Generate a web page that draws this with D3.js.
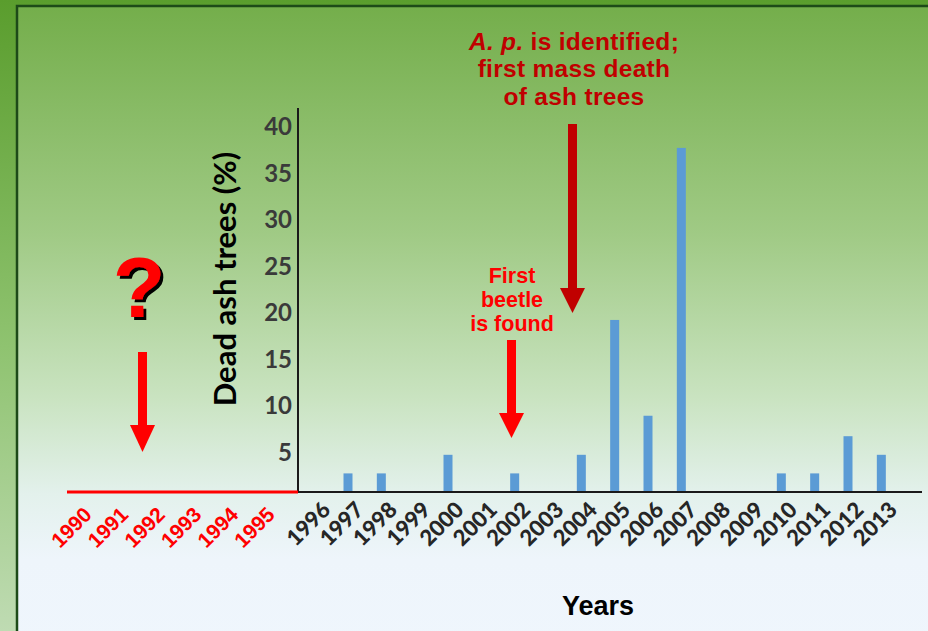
<!DOCTYPE html>
<html>
<head>
<meta charset="utf-8">
<script src="https://cdn.jsdelivr.net/npm/d3@7"></script>
<style>
  body { margin: 0; overflow: hidden; }
</style>
</head>
<body>
<div id="chart"></div>
<script>
// data
const chartYears = ["1996", "1997", "1998", "1999", "2000", "2001", "2002", "2003", "2004",
  "2005", "2006", "2007", "2008", "2009", "2010", "2011", "2012", "2013"];
const deadPct = [0, 2, 2, 0, 4, 0, 2, 0, 4, 18.5, 8.2, 37, 0, 0, 2, 2, 6, 4];
const earlyYears = ["1990", "1991", "1992", "1993", "1994", "1995"];
const yTicks = [5, 10, 15, 20, 25, 30, 35, 40];
const yLabel = "Dead ash trees (%)";
const xLabel = "Years";
const topNote = ["is identified;", "first mass death", "of ash trees"];
const beetleNote = ["First", "beetle", "is found"];

const W = 928, H = 631;

const svg = d3
  .select("#chart")
  .append("svg")
  .attr("width", W)
  .attr("height", H);

// background gradients
const defs = svg.append("defs");
const frameGrad = defs.append("linearGradient")
  .attr("id", "frameGrad").attr("x1", 0).attr("y1", 0).attr("x2", 0).attr("y2", 1);
frameGrad.append("stop").attr("offset", "0%").attr("stop-color", "#5a9d2d");
frameGrad.append("stop").attr("offset", "55%").attr("stop-color", "#8fc370");
frameGrad.append("stop").attr("offset", "100%").attr("stop-color", "#bfdbb3");

const panelGrad = defs.append("linearGradient")
  .attr("id", "panelGrad").attr("x1", 0).attr("y1", 0).attr("x2", 0).attr("y2", 1);
[["0%", "#74ae4b"], ["35%", "#a0ca85"], ["60%", "#c9e3c0"], ["75%", "#e3f1ec"],
 ["85%", "#eef5fb"], ["100%", "#eff6fd"]].forEach(function (s) {
  panelGrad.append("stop").attr("offset", s[0]).attr("stop-color", s[1]);
});

// shadow for the question mark
defs.append("filter")
  .attr("id", "qshadow")
  .append("feDropShadow")
  .attr("dx", 3).attr("dy", 3).attr("stdDeviation", 0.4)
  .attr("flood-color", "#000").attr("flood-opacity", 1);

svg.append("rect").attr("width", W).attr("height", H).style("fill", "url(#frameGrad)");
svg.append("rect")
  .attr("x", 17).attr("y", 6)
  .attr("width", W).attr("height", H + 20)
  .style("fill", "url(#panelGrad)")
  .style("stroke", "#1d4a18")
  .style("stroke-width", 2.5);

// scales
const x = d3.scaleBand().domain(chartYears).range([298, 898]).padding(0);
const xEarly = d3.scalePoint().domain(earlyYears).range([93, 276]);
const y = d3.scaleLinear().domain([0, 40]).range([492, 120]);

// bars
const barW = x.bandwidth() * 0.27;
svg
  .selectAll("rect.bar")
  .data(chartYears.map(function (d, i) { return { year: d, v: deadPct[i] }; }))
  .enter()
  .append("rect")
  .attr("class", "bar")
  .style("fill", "#5b9bd5")
  .attr("x", function (d) { return x(d.year) + x.bandwidth() / 2 - barW / 2; })
  .attr("y", function (d) { return y(d.v); })
  .attr("width", barW)
  .attr("height", function (d) { return y(0) - y(d.v); });

// Y axis
const yAxis = svg
  .append("g")
  .attr("transform", "translate(298,0)")
  .call(d3.axisLeft(y).tickValues(yTicks).tickSize(0).tickPadding(6));
yAxis.select(".domain").remove();
yAxis
  .selectAll("text")
  .attr("y", 7)
  .style("font-family", "Lato, sans-serif")
  .style("font-weight", "700")
  .style("font-size", "24px")
  .style("fill", "#3a3a3a");
svg.append("line")
  .attr("x1", 298).attr("x2", 298).attr("y1", 108).attr("y2", y(0))
  .style("stroke", "#1a1a1a").style("stroke-width", 2);

// X axis
const xAxis = svg
  .append("g")
  .attr("transform", "translate(0," + y(0) + ")")
  .call(d3.axisBottom(x).tickSize(0).tickSizeOuter(0));
xAxis.select(".domain").remove();
xAxis
  .selectAll("text")
  .attr("text-anchor", "end")
  .attr("dy", 0)
  .attr("transform", "translate(15,17)rotate(-45)")
  .style("font-family", "Lato, sans-serif")
  .style("font-weight", "900")
  .style("font-size", "22px")
  .style("fill", "#262626");
svg.append("line")
  .attr("x1", 298).attr("x2", 922).attr("y1", y(0)).attr("y2", y(0))
  .style("stroke", "#1a1a1a").style("stroke-width", 2);

// red pre-record line + years
svg.append("line")
  .attr("x1", 67).attr("x2", 298).attr("y1", y(0)).attr("y2", y(0))
  .style("stroke", "#ff0000").style("stroke-width", 3);
svg
  .selectAll("text.early")
  .data(earlyYears)
  .enter()
  .append("text")
  .attr("class", "early")
  .attr("text-anchor", "end")
  .attr("transform", function (d) { return "translate(" + xEarly(d) + ",516)rotate(-45)"; })
  .style("font-family", "'Liberation Sans', Arial, sans-serif")
  .style("font-weight", "700")
  .style("font-size", "21px")
  .style("fill", "#ff0000")
  .text(function (d) { return d; });

// axis titles
svg.append("text")
  .attr("transform", "translate(236,279)rotate(-90)")
  .attr("text-anchor", "middle")
  .style("font-family", "Lato, sans-serif")
  .style("font-weight", "700")
  .style("font-size", "31px")
  .style("fill", "#000")
  .text(yLabel);

svg.append("text")
  .attr("x", 598).attr("y", 615)
  .attr("text-anchor", "middle")
  .style("font-family", "'Liberation Sans', Arial, sans-serif")
  .style("font-weight", "700")
  .style("font-size", "27px")
  .style("fill", "#000")
  .text(xLabel);

// arrows
function arrow(cx, top, headTop, tip, color) {
  svg.append("rect")
    .attr("x", cx - 4.5).attr("y", top)
    .attr("width", 9).attr("height", headTop - top + 1)
    .style("fill", color);
  svg.append("path")
    .attr("d", "M" + (cx - 12.5) + "," + headTop + "L" + (cx + 12.5) + "," + headTop + "L" + cx + "," + tip + "Z")
    .style("fill", color);
}
arrow(572.5, 124, 288, 313, "#c00000");
arrow(511.5, 340, 413, 438, "#ff0000");
arrow(142.5, 352, 425, 452, "#ff0000");

// top annotation
const note = svg.append("g")
  .style("font-family", "'Liberation Sans', Arial, sans-serif")
  .style("font-weight", "700")
  .style("font-size", "24.5px")
  .style("letter-spacing", "0.3px")
  .style("fill", "#c00000")
  .attr("text-anchor", "middle");
const l1 = note.append("text").attr("x", 574).attr("y", 49.5);
l1.append("tspan").style("font-style", "italic").text("A. p.");
l1.append("tspan").text(" " + topNote[0]);
note.append("text").attr("x", 574).attr("y", 77).text(topNote[1]);
note.append("text").attr("x", 574).attr("y", 104.5).text(topNote[2]);

// beetle annotation
svg.append("g")
  .style("font-family", "'Liberation Sans', Arial, sans-serif")
  .style("font-weight", "700")
  .style("font-size", "21.5px")
  .style("fill", "#ff0000")
  .attr("text-anchor", "middle")
  .selectAll("text")
  .data(beetleNote)
  .enter()
  .append("text")
  .attr("x", 512)
  .attr("y", function (d, i) { return 283 + i * 24; })
  .text(function (d) { return d; });

// question mark
svg.append("text")
  .attr("x", 139).attr("y", 317)
  .attr("text-anchor", "middle")
  .attr("filter", "url(#qshadow)")
  .style("font-family", "'Liberation Sans', Arial, sans-serif")
  .style("font-weight", "700")
  .style("font-size", "86px")
  .style("fill", "#ff0000")
  .text("?");
</script>
</body>
</html>
